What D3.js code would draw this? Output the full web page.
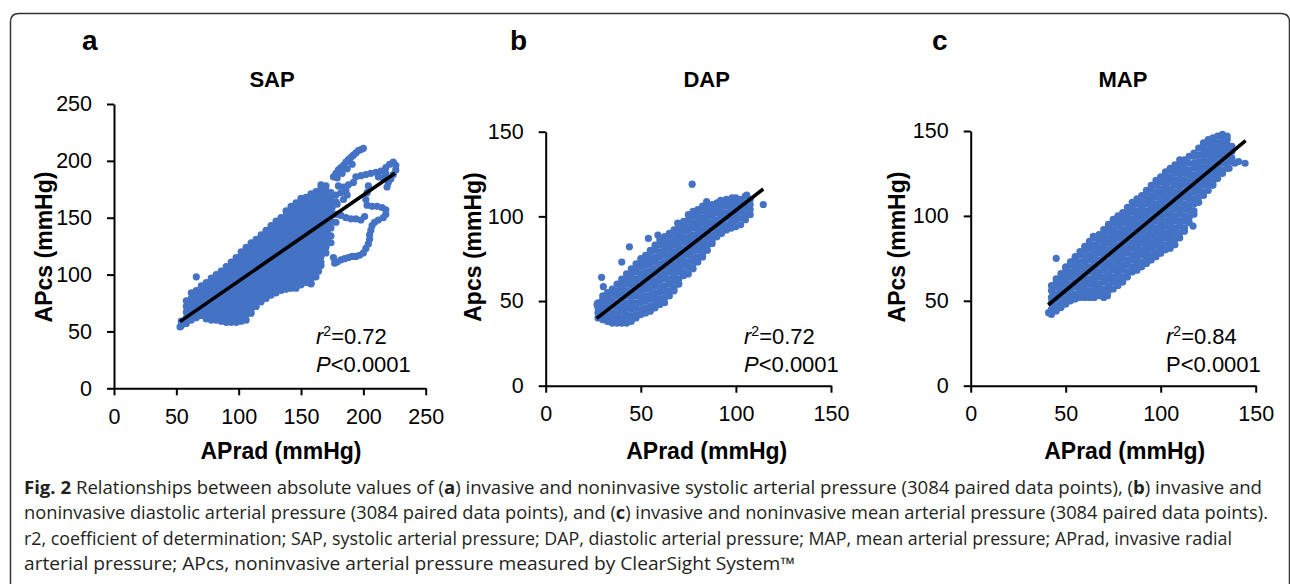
<!DOCTYPE html>
<html lang="en">
<head>
<meta charset="UTF-8">
<title>Fig. 2 APcs vs APrad</title>
<style>
  body { margin: 0; background: #fff; }
  svg text { font-family: "Liberation Sans", Arial, sans-serif; fill: #000; }
  .tick text { font-size: 21.5px; }
  .caption { font-family: "Open Sans", sans-serif; font-size: 17.5px; fill: #231f20; }
</style>
</head>
<body>
<svg id="fig" width="1290" height="584"></svg>
<script src="https://cdnjs.cloudflare.com/ajax/libs/d3/7.8.5/d3.min.js"></script>
<script>
// each row: APrad value, then the APcs values
var sapColumns = [
  [54, 55, 59],
  [58, 57, 62, 67, 72, 77],
  [62, 60, 64, 69, 74, 79, 84],
  [66, 62, 67, 72, 77, 82, 86],
  [70, 64, 68, 73, 78, 83, 88, 90],
  [74, 61, 66, 71, 76, 81, 86, 91, 93],
  [78, 60, 64, 69, 74, 79, 84, 89, 94, 97],
  [82, 60, 65, 70, 75, 80, 85, 90, 95, 100],
  [86, 59, 63, 68, 73, 78, 83, 88, 93, 98, 103],
  [90, 58, 62, 67, 72, 77, 82, 87, 92, 97, 102, 107],
  [94, 58, 61, 66, 71, 76, 81, 86, 91, 96, 101, 106, 111],
  [98, 58, 63, 68, 73, 78, 83, 88, 93, 98, 103, 108, 113, 115],
  [102, 59, 62, 67, 72, 77, 82, 87, 92, 97, 102, 107, 112, 117, 120],
  [106, 60, 65, 70, 75, 80, 85, 90, 95, 100, 105, 110, 115, 120, 124],
  [110, 66, 69, 74, 79, 84, 89, 94, 99, 104, 109, 114, 119, 124, 128],
  [114, 72, 76, 81, 86, 91, 96, 101, 106, 111, 116, 121, 126, 131],
  [118, 76, 80, 85, 90, 95, 100, 105, 110, 115, 120, 125, 130, 135],
  [122, 79, 82, 87, 92, 97, 102, 107, 112, 117, 122, 127, 132, 137, 139],
  [126, 82, 86, 91, 96, 101, 106, 111, 116, 121, 126, 131, 136, 141, 143],
  [130, 84, 88, 93, 98, 103, 108, 113, 118, 123, 128, 133, 138, 143, 147],
  [134, 86, 90, 95, 100, 105, 110, 115, 120, 125, 130, 135, 140, 145, 150],
  [138, 87, 92, 97, 102, 107, 112, 117, 122, 127, 132, 137, 142, 147, 152, 156],
  [142, 88, 90, 95, 100, 105, 110, 115, 120, 125, 130, 135, 140, 145, 150, 155, 160],
  [146, 88, 93, 98, 103, 108, 113, 118, 123, 128, 133, 138, 143, 148, 153, 158, 163],
  [150, 91, 95, 100, 105, 110, 115, 120, 125, 130, 135, 140, 145, 150, 155, 160, 165, 167],
  [154, 93, 98, 103, 108, 113, 118, 123, 128, 133, 138, 143, 148, 153, 158, 163, 168],
  [158, 92, 96, 101, 106, 111, 116, 121, 126, 131, 136, 141, 146, 151, 156, 161, 166, 171],
  [162, 98, 103, 108, 113, 118, 123, 128, 133, 138, 143, 148, 153, 158, 163, 168, 173],
  [166, 108, 111, 116, 121, 126, 131, 136, 141, 146, 151, 156, 161, 166, 171, 176, 179],
  [170, 119, 124, 129, 134, 139, 144, 149, 154, 159, 164, 169, 174, 178],
  [174, 128, 134, 141, 147, 152, 158, 163, 168, 172],
  [178, 146, 153, 164, 170]
];
// streaks and loops outside the main SAP cloud
var sapExtra = [
  [53, 54], [66, 98], [161, 100], [158, 92], [164, 103], [168, 124], [171, 131], [171, 137], [173, 142],
  [176, 186], [178, 189], [180, 192], [182, 194], [184, 196], [186, 199], [188, 201], [190, 203],
  [192, 205], [194, 207], [196, 209], [198, 210], [200, 211], [179, 185], [183, 189], [187, 193], [191, 197],
  [180, 178], [184, 177], [188, 179], [192, 181], [186, 174], [182, 172], [184, 166], [187, 170],
  [194, 186], [198, 187], [202, 188], [206, 189], [210, 190], [214, 191], [218, 194], [221, 197],
  [224, 199], [226, 196], [226, 192], [224, 188], [222, 184], [220, 181], [219, 177], [216, 185], [212, 186], [218, 189],
  [204, 178], [203, 172], [202, 166], [203, 161], [207, 160], [211, 160], [215, 159], [218, 157], [218, 153],
  [216, 150], [212, 148], [209, 146], [207, 143], [206, 139], [205, 135], [205, 131], [204, 127], [202, 123],
  [200, 119], [197, 117], [194, 116], [191, 116], [188, 115], [185, 114], [182, 113], [179, 111], [177, 110], [176, 115],
  [174, 155], [178, 153], [182, 152], [186, 150], [190, 149], [194, 149], [198, 148], [201, 151], [175, 159], [179, 162]
];

var dapColumns = [
  [27.5, 40, 43, 46, 49],
  [30, 39, 42, 45, 48, 51, 53],
  [32.5, 38, 41, 45, 48, 52, 55],
  [35, 37, 40, 43, 47, 50, 54, 57],
  [37.5, 37, 39, 42, 46, 49, 53, 56, 60],
  [40, 37, 40, 44, 47, 51, 54, 58, 61, 63],
  [42.5, 37, 39, 42, 46, 49, 53, 56, 60, 63, 66],
  [45, 38, 41, 45, 48, 52, 55, 59, 62, 66, 69],
  [47.5, 40, 42, 46, 49, 53, 56, 60, 63, 67, 70, 72],
  [50, 42, 45, 49, 52, 56, 59, 63, 66, 70, 73, 75],
  [52.5, 43, 46, 50, 53, 57, 60, 64, 67, 71, 74, 77],
  [55, 44, 47, 51, 54, 58, 61, 65, 68, 72, 75, 79, 80],
  [57.5, 46, 48, 52, 55, 59, 62, 66, 69, 73, 76, 80, 83],
  [60, 48, 51, 55, 58, 62, 65, 69, 72, 76, 79, 83, 86],
  [62.5, 49, 52, 56, 59, 63, 66, 70, 73, 77, 80, 84, 87, 88],
  [65, 53, 56, 60, 63, 67, 70, 74, 77, 81, 84, 88, 90],
  [67.5, 56, 58, 62, 65, 69, 72, 76, 79, 83, 86, 90, 92],
  [70, 60, 63, 67, 70, 74, 77, 81, 84, 88, 91, 94],
  [72.5, 65, 67, 71, 74, 78, 81, 85, 88, 92, 95, 97],
  [75, 66, 70, 73, 77, 80, 84, 87, 91, 94, 98, 101],
  [77.5, 69, 72, 75, 79, 82, 86, 89, 93, 96, 100, 103],
  [80, 73, 76, 80, 83, 87, 90, 94, 97, 101, 104],
  [82.5, 76, 78, 82, 85, 89, 92, 96, 99, 103, 106],
  [85, 80, 83, 87, 90, 94, 97, 101, 104, 107],
  [87.5, 84, 86, 89, 93, 96, 100, 103, 107],
  [90, 88, 91, 95, 98, 102, 105, 108],
  [92.5, 90, 93, 96, 100, 103, 107, 109],
  [95, 92, 95, 99, 102, 106, 110],
  [97.5, 93, 96, 100, 103, 107, 110],
  [100, 94, 98, 101, 105, 108, 111],
  [102.5, 95, 99, 103, 106, 110],
  [105, 98, 101, 105, 108, 112],
  [107.5, 101, 104, 107, 110]
];
var dapExtra = [
  [77, 119], [114.4, 107], [44, 82], [59, 89], [54, 87], [40, 73], [29.4, 64], [30.3, 58.5], [27, 48],
  [69.4, 96], [84.6, 108.7], [105.7, 112.6], [92, 109.5], [98, 111]
];

var mapColumns = [
  [42.5, 42, 45, 49, 52, 56, 59],
  [45, 44, 47, 51, 54, 58, 61, 63],
  [47.5, 46, 49, 53, 56, 60, 63, 66],
  [50, 48, 51, 55, 58, 62, 65, 69, 70],
  [52.5, 50, 53, 57, 60, 64, 67, 71, 73],
  [55, 51, 54, 58, 61, 65, 68, 72, 75, 76],
  [57.5, 52, 56, 59, 63, 66, 70, 73, 77, 79],
  [60, 52, 55, 59, 62, 66, 69, 73, 76, 80, 82],
  [62.5, 52, 56, 60, 63, 67, 70, 74, 77, 81, 84, 85],
  [65, 52, 55, 59, 62, 66, 69, 73, 76, 80, 83, 87],
  [67.5, 53, 57, 60, 64, 67, 71, 74, 78, 81, 85, 88, 89],
  [70, 54, 57, 61, 64, 68, 71, 75, 78, 82, 85, 89, 92],
  [72.5, 56, 59, 63, 66, 70, 73, 77, 80, 84, 87, 91, 94, 95],
  [75, 57, 61, 64, 68, 71, 75, 78, 82, 85, 89, 92, 96, 98],
  [77.5, 59, 62, 66, 69, 73, 76, 80, 83, 87, 90, 94, 97, 100],
  [80, 61, 64, 68, 71, 75, 78, 82, 85, 89, 92, 96, 99, 102],
  [82.5, 64, 67, 71, 74, 78, 81, 85, 88, 92, 95, 99, 102, 105],
  [85, 67, 70, 74, 77, 81, 84, 88, 91, 95, 98, 102, 105, 108],
  [87.5, 68, 72, 75, 79, 82, 86, 89, 93, 96, 100, 103, 107, 110],
  [90, 70, 73, 77, 80, 84, 87, 91, 94, 98, 101, 105, 108, 112],
  [92.5, 72, 75, 79, 82, 86, 89, 93, 96, 100, 103, 107, 110, 114, 115],
  [95, 74, 77, 81, 84, 88, 91, 95, 98, 102, 105, 109, 112, 116, 118],
  [97.5, 76, 79, 83, 86, 90, 93, 97, 100, 104, 107, 111, 114, 118, 121],
  [100, 78, 81, 85, 88, 92, 95, 99, 102, 106, 109, 113, 116, 120, 123],
  [102.5, 80, 83, 87, 90, 94, 97, 101, 104, 108, 111, 115, 118, 122, 125, 126],
  [105, 81, 85, 88, 92, 95, 99, 102, 106, 109, 113, 116, 120, 123, 127, 128],
  [107.5, 83, 86, 90, 93, 97, 100, 104, 107, 111, 114, 118, 121, 125, 128, 130],
  [110, 87, 90, 94, 97, 101, 104, 108, 111, 115, 118, 122, 125, 129, 131],
  [112.5, 91, 93, 97, 100, 104, 107, 111, 114, 118, 121, 125, 128, 132, 133],
  [115, 96, 99, 103, 106, 110, 113, 117, 120, 124, 127, 131, 135],
  [117.5, 101, 103, 107, 110, 114, 117, 121, 124, 128, 131, 135, 137],
  [120, 108, 111, 115, 118, 122, 125, 129, 132, 136, 140],
  [122.5, 112, 114, 118, 121, 125, 128, 132, 135, 139, 142, 143],
  [125, 115, 118, 122, 125, 129, 132, 136, 139, 143, 145],
  [127.5, 118, 120, 124, 127, 131, 134, 138, 141, 145, 146],
  [130, 122, 125, 129, 132, 136, 139, 143, 147],
  [132.5, 125, 127, 131, 134, 138, 141, 145, 148],
  [135, 128, 131, 135, 138, 142, 145, 147],
  [137.5, 132, 134, 138, 141]
];
var mapExtra = [
  [45, 75], [144.4, 131], [110, 133], [117, 94], [64.5, 88], [66, 53], [70, 52], [72, 53], [41, 43],
  [139, 131], [136, 128], [141, 132]
];

var sapTicks = [0, 50, 100, 150, 200, 250];
var dapTicks = [0, 50, 100, 150];
var mapTicks = [0, 50, 100, 150];

// regression lines: slope, intercept, APrad range
var fitSlope = [0.757, 0.872, 0.932];
var fitIntercept = [18.6, 16.4, 9.5];
var fitRange = [[52.9, 225.3], [26.8, 114.4], [40.8, 144.7]];

var r2Values = ['0.72', '0.72', '0.84'];
var pValues = ['<0.0001', '<0.0001', '<0.0001'];

var panels = [
  { letter: 'a', title: 'SAP', yTitle: 'APcs (mmHg)', cols: sapColumns, extra: sapExtra, ticks: sapTicks,
    left: 114, right: 425.7, top: 104, bottom: 388.3, titleX: 272, xTitleX: 281, yTitleX: 52,
    letterX: 82, statX: 316, italicP: true },
  { letter: 'b', title: 'DAP', yTitle: 'Apcs (mmHg)', cols: dapColumns, extra: dapExtra, ticks: dapTicks,
    left: 545.7, right: 831, top: 131.7, bottom: 385.7, titleX: 706.7, xTitleX: 706.7, yTitleX: 481,
    letterX: 510, statX: 744, italicP: true },
  { letter: 'c', title: 'MAP', yTitle: 'APcs (mmHg)', cols: mapColumns, extra: mapExtra, ticks: mapTicks,
    left: 970.7, right: 1255.7, top: 131, bottom: 385.7, titleX: 1123, xTitleX: 1124.7, yTitleX: 905,
    letterX: 932, statX: 1166, italicP: false }
];

var svg = d3.select('#fig');

// frame
svg.append('path')
  .attr('d', 'M10.5,600 V22 Q10.5,13.5 19,13.5 H1281 Q1289.5,13.5 1289.5,22 V600')
  .attr('fill', 'none')
  .attr('stroke', '#333')
  .attr('stroke-width', 1.5);

function toPoints(cols, extra) {
  var pts = [];
  cols.forEach(function(c) {
    for (var i = 1; i < c.length; i++) pts.push([c[0], c[i]]);
  });
  return pts.concat(extra);
}

panels.forEach(function(p, k) {
  var max = p.ticks[p.ticks.length - 1];
  var x = d3.scaleLinear().domain([0, max]).range([p.left, p.right]);
  var y = d3.scaleLinear().domain([0, max]).range([p.bottom, p.top]);
  var g = svg.append('g');

  var pts = toPoints(p.cols, p.extra);
  g.append('g').selectAll('circle')
    .data(pts)
    .enter().append('circle')
    .attr('cx', function(d) { return x(d[0]); })
    .attr('cy', function(d) { return y(d[1]); })
    .attr('r', 3.6)
    .attr('fill', '#4472c4');

  var r = fitRange[k];
  g.append('line')
    .attr('x1', x(r[0])).attr('y1', y(fitSlope[k] * r[0] + fitIntercept[k]))
    .attr('x2', x(r[1])).attr('y2', y(fitSlope[k] * r[1] + fitIntercept[k]))
    .attr('stroke', '#000')
    .attr('stroke-width', 3.6);

  var yAxis = g.append('g')
    .attr('transform', 'translate(' + p.left + ',0)')
    .call(d3.axisLeft(y).tickValues(p.ticks).tickSize(7).tickSizeOuter(0).tickPadding(15));
  var xAxis = g.append('g')
    .attr('transform', 'translate(0,' + p.bottom + ')')
    .call(d3.axisBottom(x).tickValues(p.ticks).tickSize(7).tickSizeOuter(0).tickPadding(13));
  [yAxis, xAxis].forEach(function(a) {
    a.attr('font-family', null).attr('font-size', null);
    a.select('.domain').attr('stroke', '#000').attr('stroke-width', 2);
    a.selectAll('.tick line').attr('stroke', '#000').attr('stroke-width', 2);
  });

  g.append('text')
    .attr('x', p.letterX).attr('y', 50)
    .attr('font-size', 28).attr('font-weight', 'bold')
    .text(p.letter);

  g.append('text')
    .attr('x', p.titleX).attr('y', 87)
    .attr('text-anchor', 'middle')
    .attr('font-size', 22).attr('font-weight', 'bold')
    .text(p.title);

  g.append('text')
    .attr('x', p.xTitleX).attr('y', 458.5)
    .attr('text-anchor', 'middle')
    .attr('font-size', 23).attr('font-weight', 'bold')
    .text('APrad (mmHg)');

  g.append('text')
    .attr('transform', 'translate(' + p.yTitleX + ',247) rotate(-90)')
    .attr('text-anchor', 'middle')
    .attr('font-size', 23).attr('font-weight', 'bold')
    .text(p.yTitle);

  var r2 = g.append('text')
    .attr('x', p.statX).attr('y', 343.5)
    .attr('font-size', 22);
  r2.append('tspan').attr('font-style', 'italic').text('r');
  r2.append('tspan').attr('font-size', 14).attr('dy', -8).text('2');
  r2.append('tspan').attr('dy', 8).text('=' + r2Values[k]);

  var pt = g.append('text')
    .attr('x', p.statX).attr('y', 371.5)
    .attr('font-size', 22);
  pt.append('tspan').attr('font-style', p.italicP ? 'italic' : 'normal').text('P');
  pt.append('tspan').text(pValues[k]);
});

// caption
var captionLines = [
  [['b', 'Fig. 2'], ['', ' Relationships between absolute values of ('], ['b', 'a'], ['', ') invasive and noninvasive systolic arterial pressure (3084 paired data points), ('], ['b', 'b'], ['', ') invasive and']],
  [['', 'noninvasive diastolic arterial pressure (3084 paired data points), and ('], ['b', 'c'], ['', ') invasive and noninvasive mean arterial pressure (3084 paired data points).']],
  [['', 'r2, coefficient of determination; SAP, systolic arterial pressure; DAP, diastolic arterial pressure; MAP, mean arterial pressure; APrad, invasive radial']],
  [['', 'arterial pressure; APcs, noninvasive arterial pressure measured by ClearSight System\u2122']]
];
var captionEnds = [1262, 1268, 1232, 795];
var captionLeft = 24;

captionLines.forEach(function(line, i) {
  var t = svg.append('text')
    .attr('class', 'caption')
    .attr('x', captionLeft)
    .attr('y', 494 + i * 25.4)
    .attr('textLength', captionEnds[i] - captionLeft)
    .attr('lengthAdjust', 'spacingAndGlyphs');
  line.forEach(function(part) {
    t.append('tspan')
      .attr('font-weight', part[0] === 'b' ? 'bold' : null)
      .text(part[1]);
  });
});
</script>
</body>
</html>
